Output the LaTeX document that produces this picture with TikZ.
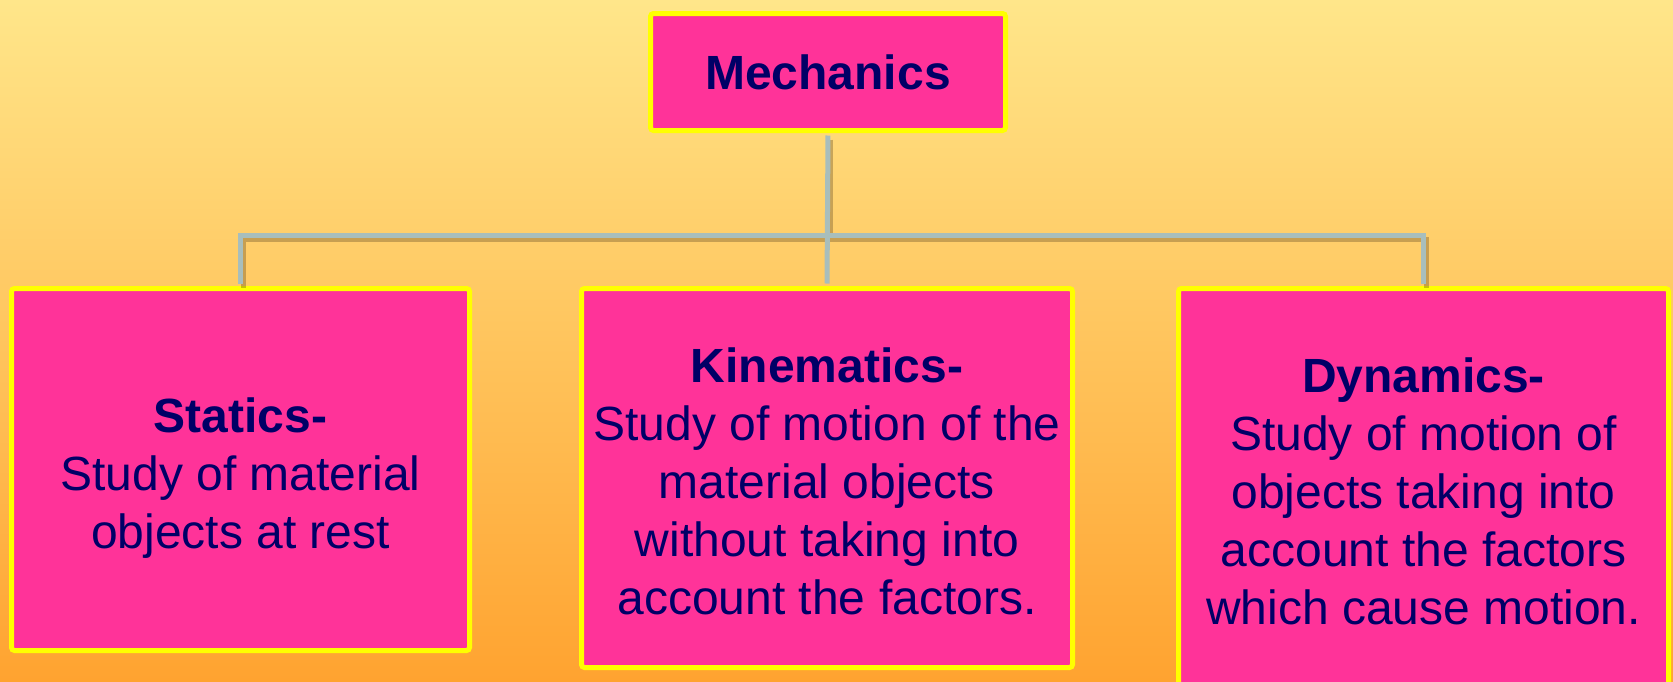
\documentclass[tikz,border=0pt]{standalone}
\usepackage{fontspec}
\setmainfont{Liberation Sans}
\usepackage{tikz}
\usetikzlibrary{positioning}
\definecolor{ink}{RGB}{0,0,102}
\definecolor{pinkfill}{RGB}{255,51,153}
\definecolor{yellowrule}{RGB}{255,255,0}
\definecolor{wiregray}{RGB}{168,190,188}
\definecolor{bgtop}{RGB}{255,230,138}
\definecolor{bgmid}{RGB}{255,204,104}
\definecolor{bgbottom}{RGB}{255,163,48}
\tikzset{
  topic/.style={draw=yellowrule,line width=2.5pt,rounded corners=1.5pt,fill=pinkfill,text=ink,align=center,inner sep=3pt,font=\fontsize{24}{29}\selectfont},
  wire/.style={draw=wiregray,line width=2.5pt,shorten <=1.25pt,shorten >=1.25pt},
  wireshade/.style={draw=black!70!brown,opacity=0.28,line width=2.5pt,shorten <=1.25pt,shorten >=1.25pt}
}

\begin{document}
\begin{tikzpicture}[x=0.5pt,y=-0.5pt]
  \useasboundingbox (0,0) rectangle (1673,681);
  \fill[top color=bgtop,middle color=bgmid,bottom color=bgbottom] (0,0) rectangle (1673,681);
  \node[topic,minimum width=177.5pt,minimum height=58.5pt,font=\fontsize{24}{29}\selectfont\bfseries] (mech) at (828,72) {Mechanics};
  \node[topic,minimum width=229pt,minimum height=181pt] (stat) at (240.5,469.5) {\rule{0pt}{25.5pt}\textbf{Statics-}\\Study of material\\objects at rest};
  \node[topic,minimum width=245.5pt,minimum height=189.5pt] (kin) at (827,478) {\rule{0pt}{20.5pt}\textbf{Kinematics-}\\Study of motion of the\\material objects\\without taking into\\account the factors.};
  \node[topic,minimum width=245pt,minimum height=202.5pt] (dyn) at (1423.5,491) {\textbf{Dynamics-}\\Study of motion of\\objects taking into\\account the factors\\which cause motion.};
  \coordinate (bar) at (828,235);
  \draw[wireshade,transform canvas={xshift=1.3pt,yshift=-2pt}] (stat.north) |- (bar) -| (dyn.north);
  \draw[wireshade,transform canvas={xshift=1.3pt,yshift=-2pt}] (mech.south) -- (bar);
  \draw[wire] (stat.north) |- (bar) -| (dyn.north);
  \draw[wire] (mech.south) -- (kin.north);
\end{tikzpicture}
\end{document}
